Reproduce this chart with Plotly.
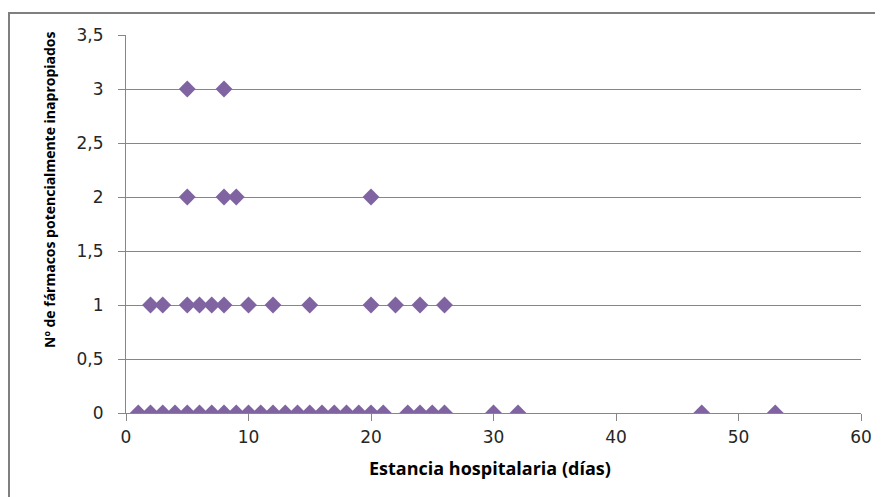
import plotly.graph_objects as go

# Data
stay_0 = [1, 2, 3, 4, 5, 6, 7, 8, 9, 10, 11, 12, 13, 14, 15, 16, 17, 18, 19, 20, 21,
          23, 24, 25, 26, 30, 32, 47, 53]
stay_1 = [2, 3, 5, 6, 7, 8, 10, 12, 15, 20, 22, 24, 26]
stay_2 = [5, 8, 9, 20]
stay_3 = [5, 8]

x_vals = stay_0 + stay_1 + stay_2 + stay_3
y_vals = [0] * len(stay_0) + [1] * len(stay_1) + [2] * len(stay_2) + [3] * len(stay_3)

x_title = "Estancia hospitalaria (días)"
y_title = "Nº de fármacos potencialmente inapropiados"

# page has an 8px body margin; figure is sized to fit the 883x497 window
W, H = 875, 489
L, R, T, B = 118, 22, 27, 84
PW, PH = W - L - R, H - T - B

def px(xp):  # page x -> paper fraction
    return (xp - 8 - L) / PW

def py(yp):  # page y -> paper fraction
    return (H - B - (yp - 8)) / PH

fig = go.Figure()
fig.add_trace(go.Scatter(
    x=x_vals, y=y_vals, mode="markers",
    marker=dict(symbol="diamond", size=13, color="#8064A2", line=dict(width=0)),
    showlegend=False, hoverinfo="x+y",
))

tick_font = dict(family="DejaVu Sans, sans-serif", size=17, color="#262626")
fig.update_layout(
    width=W, height=H,
    margin=dict(l=L, r=R, t=T, b=B),
    paper_bgcolor="white", plot_bgcolor="white",
    separators=",.",
    xaxis=dict(
        range=[0, 60], dtick=10, tick0=0,
        showgrid=False, zeroline=False,
        showline=True, linecolor="#868686", linewidth=1,
        ticks="outside", ticklen=7, tickcolor="#868686",
        tickfont=tick_font, ticklabelstandoff=2,
    ),
    yaxis=dict(
        range=[0, 3.5], dtick=0.5, tick0=0,
        showgrid=True, gridcolor="#868686", gridwidth=1,
        zeroline=False,
        showline=True, linecolor="#868686", linewidth=1,
        ticks="outside", ticklen=7, tickcolor="#868686",
        tickfont=tick_font, ticklabelstandoff=11,
    ),
    annotations=[
        dict(text="<b>" + x_title + "</b>", xref="paper", yref="paper",
             x=px(490), y=py(468), showarrow=False,
             xanchor="center", yanchor="middle",
             font=dict(family="Open Sans, sans-serif", size=18, color="#000000")),
        dict(text="<b>" + y_title + "</b>", xref="paper", yref="paper",
             x=px(50), y=py(190), showarrow=False, textangle=-90,
             xanchor="center", yanchor="middle",
             font=dict(family="Open Sans, sans-serif", size=14, color="#000000")),
    ],
    shapes=[
        dict(type="rect", xref="paper", yref="paper",
             x0=px(9), x1=px(895),
             y0=py(510), y1=py(13),
             line=dict(color="#7f7f7f", width=2), fillcolor="rgba(0,0,0,0)",
             layer="below"),
    ],
)

fig.write_html("out.html")
